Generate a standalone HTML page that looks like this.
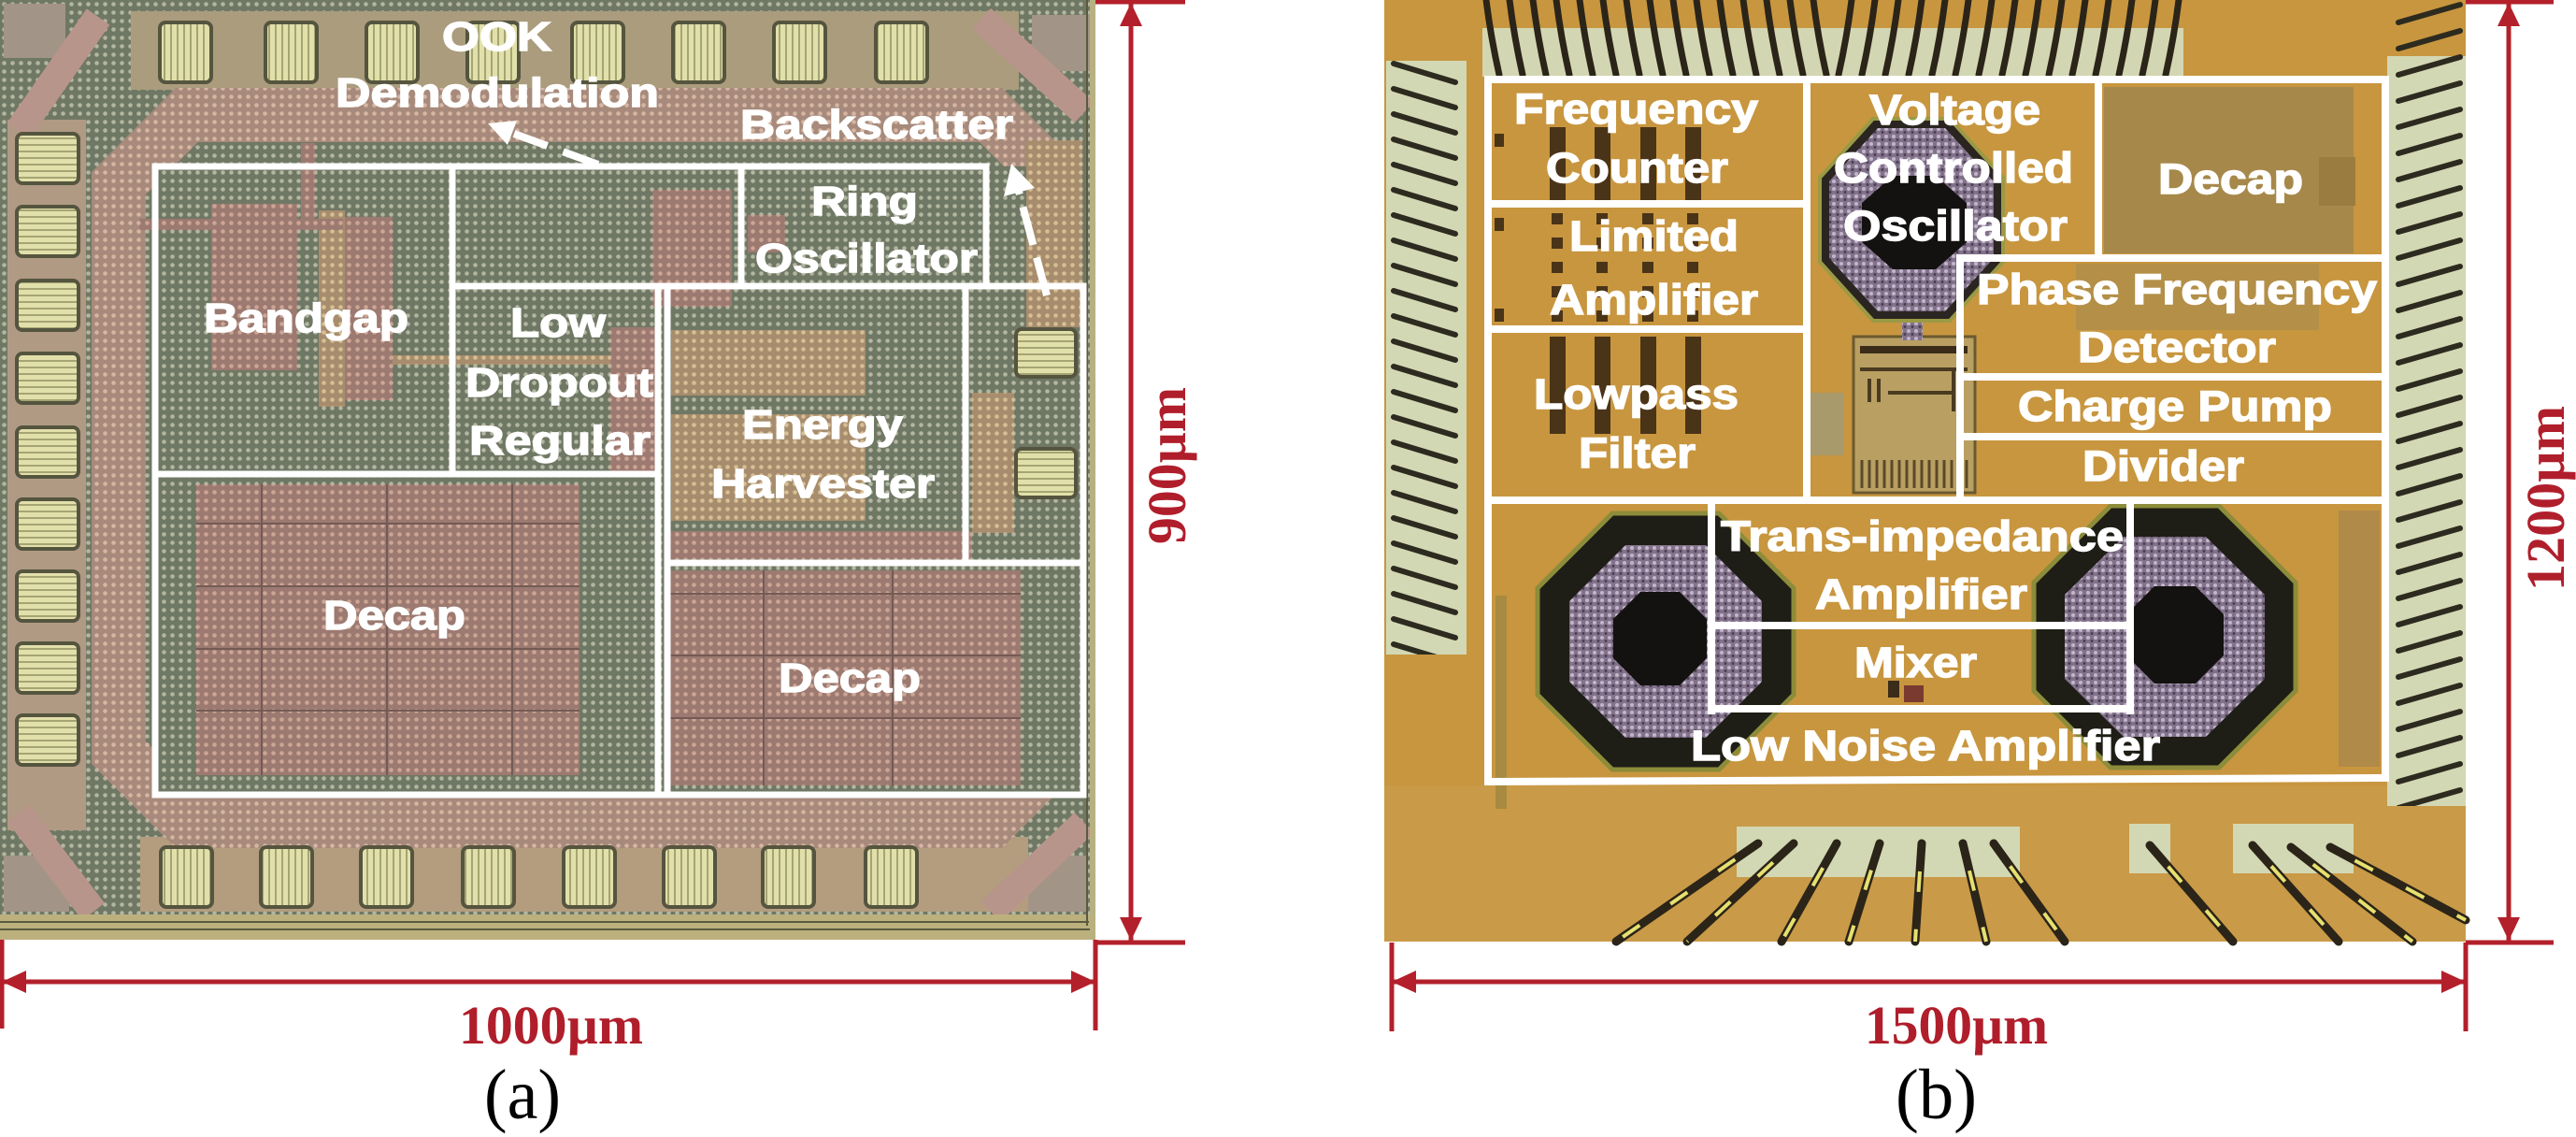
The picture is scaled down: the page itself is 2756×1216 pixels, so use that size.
<!DOCTYPE html>
<html><head><meta charset="utf-8"><style>
html,body{margin:0;padding:0;background:#fff;}
svg{display:block;}
.w{font-family:"Liberation Sans",Arial,sans-serif;font-weight:bold;font-size:44px;fill:#fff;stroke:#fff;stroke-width:1.4px;}
.d{font-family:"Liberation Serif","Times New Roman",serif;font-weight:bold;font-size:58px;fill:#b01e2b;}
.c{font-family:"Liberation Serif","Times New Roman",serif;font-size:76px;fill:#000;}
</style></head><body>
<svg width="2756" height="1216" viewBox="0 0 2756 1216" xmlns="http://www.w3.org/2000/svg">
<defs>
 <pattern id="gd" width="9" height="9" patternUnits="userSpaceOnUse"><rect width="9" height="9" fill="#6f7864"/><circle cx="4.5" cy="4.5" r="2.3" fill="#b3b6a0"/></pattern>
 <pattern id="pk" width="9" height="9" patternUnits="userSpaceOnUse"><rect width="9" height="9" fill="#9c7a71"/><circle cx="4.5" cy="4.5" r="2.3" fill="#cda594"/></pattern>
 <pattern id="or" width="9" height="9" patternUnits="userSpaceOnUse"><rect width="9" height="9" fill="#a78a7b"/><circle cx="4.5" cy="4.5" r="2.3" fill="#d6b6a2"/></pattern>
 <pattern id="oy" width="9" height="9" patternUnits="userSpaceOnUse"><rect width="9" height="9" fill="#a78d6d"/><circle cx="4.5" cy="4.5" r="2.3" fill="#d6bf94"/></pattern>
 <pattern id="pv" width="7" height="10" patternUnits="userSpaceOnUse"><rect width="7" height="10" fill="#e2e0aa"/><rect width="2" height="10" fill="#a5a474"/></pattern>
 <pattern id="ph" width="10" height="7" patternUnits="userSpaceOnUse"><rect width="10" height="7" fill="#e2e0aa"/><rect width="10" height="2" fill="#a5a474"/></pattern>
 <pattern id="pp" width="8" height="8" patternUnits="userSpaceOnUse"><rect width="8" height="8" fill="#82728b"/><circle cx="2" cy="2" r="2" fill="#c2b6ca"/><circle cx="6" cy="5.5" r="1.5" fill="#4a3f50"/></pattern>
 <pattern id="wl" x="1483" y="65" width="86" height="27" patternUnits="userSpaceOnUse"><path d="M8,3 L74,23" stroke="#2d2b1f" stroke-width="6" stroke-linecap="round"/></pattern>
 <pattern id="wr" x="2554" y="0" width="84" height="28" patternUnits="userSpaceOnUse"><path d="M12,24 L78,5" stroke="#2d2b1f" stroke-width="6" stroke-linecap="round"/></pattern>
 <pattern id="tl" x="1586" y="0" width="25" height="90" patternUnits="userSpaceOnUse"><path d="M4,0 Q9,40 18,80" stroke="#2b2418" stroke-width="7" fill="none" stroke-linecap="round"/></pattern>
 <pattern id="tr" x="1960" y="0" width="25" height="90" patternUnits="userSpaceOnUse"><path d="M21,0 Q16,40 7,80" stroke="#2b2418" stroke-width="7" fill="none" stroke-linecap="round"/></pattern>
</defs>

<!-- ================= PANEL (a) ================= -->
<rect x="0" y="0" width="1172" height="1005" fill="url(#gd)"/>
<rect x="140" y="12" width="950" height="84" fill="#aa9c7c"/>
<rect x="8" y="128" width="84" height="760" fill="#b09a84"/>
<rect x="150" y="895" width="950" height="80" fill="#b39d7e"/>
<rect x="4" y="4" width="66" height="58" fill="#a29486"/>
<rect x="1104" y="16" width="62" height="60" fill="#a29486"/>
<rect x="4" y="915" width="70" height="60" fill="#a29486"/>
<rect x="1100" y="915" width="62" height="60" fill="#a29486"/>
<path d="M20,140 L105,18 M1050,20 L1160,120 M20,870 L100,975 M1060,975 L1160,880" stroke="#b8958a" stroke-width="30"/>
<path d="M200,123 L1060,123 L1128,191 L1128,810 L1060,878 L200,878 L127,805 L127,196 Z" fill="none" stroke="url(#or)" stroke-width="58"/>
<rect x="166" y="178" width="993" height="672" fill="url(#gd)"/>
<rect x="226" y="218" width="92" height="178" fill="url(#pk)"/>
<rect x="369" y="232" width="51" height="196" fill="url(#pk)"/>
<rect x="341" y="225" width="28" height="210" fill="url(#oy)"/>
<rect x="149" y="234" width="218" height="12" fill="url(#pk)"/>
<rect x="322" y="153" width="15" height="93" fill="url(#pk)"/>
<rect x="420" y="380" width="240" height="10" fill="url(#oy)"/>
<rect x="653" y="350" width="50" height="157" fill="url(#pk)"/>
<rect x="698" y="203" width="85" height="125" fill="url(#pk)"/>
<rect x="800" y="230" width="40" height="40" fill="url(#pk)"/>
<rect x="718" y="353" width="208" height="70" fill="url(#oy)"/>
<rect x="718" y="443" width="208" height="114" fill="url(#oy)"/>
<rect x="715" y="568" width="325" height="30" fill="url(#pk)"/>
<rect x="1098" y="150" width="60" height="200" fill="url(#oy)"/>
<rect x="1040" y="420" width="45" height="150" fill="url(#oy)"/>
<rect x="210" y="518" width="410" height="311" fill="url(#pk)"/>
<path d="M280,518 V829 M414,518 V829 M548,518 V829 M210,560 H620 M210,627 H620 M210,694 H620 M210,760 H620" stroke="#735a55" stroke-width="2"/>
<rect x="715" y="610" width="377" height="230" fill="url(#pk)"/>
<path d="M817,610 V840 M955,610 V840 M715,635 H1092 M715,701 H1092 M715,768 H1092" stroke="#735a55" stroke-width="2"/>
<g stroke="#55553f" stroke-width="4">
<rect x="171" y="24" width="55" height="64" rx="6" fill="url(#pv)"/>
<rect x="284" y="24" width="55" height="64" rx="6" fill="url(#pv)"/>
<rect x="392" y="24" width="55" height="64" rx="6" fill="url(#pv)"/>
<rect x="500" y="24" width="55" height="64" rx="6" fill="url(#pv)"/>
<rect x="612" y="24" width="55" height="64" rx="6" fill="url(#pv)"/>
<rect x="720" y="24" width="55" height="64" rx="6" fill="url(#pv)"/>
<rect x="828" y="24" width="55" height="64" rx="6" fill="url(#pv)"/>
<rect x="937" y="24" width="55" height="64" rx="6" fill="url(#pv)"/>
<rect x="18" y="143" width="66" height="53" rx="6" fill="url(#ph)"/>
<rect x="18" y="221" width="66" height="53" rx="6" fill="url(#ph)"/>
<rect x="18" y="300" width="66" height="53" rx="6" fill="url(#ph)"/>
<rect x="18" y="378" width="66" height="53" rx="6" fill="url(#ph)"/>
<rect x="18" y="457" width="66" height="53" rx="6" fill="url(#ph)"/>
<rect x="18" y="534" width="66" height="53" rx="6" fill="url(#ph)"/>
<rect x="18" y="611" width="66" height="53" rx="6" fill="url(#ph)"/>
<rect x="18" y="688" width="66" height="53" rx="6" fill="url(#ph)"/>
<rect x="18" y="765" width="66" height="53" rx="6" fill="url(#ph)"/>
<rect x="172" y="906" width="55" height="64" rx="6" fill="url(#pv)"/>
<rect x="279" y="906" width="55" height="64" rx="6" fill="url(#pv)"/>
<rect x="386" y="906" width="55" height="64" rx="6" fill="url(#pv)"/>
<rect x="495" y="906" width="55" height="64" rx="6" fill="url(#pv)"/>
<rect x="603" y="906" width="55" height="64" rx="6" fill="url(#pv)"/>
<rect x="710" y="906" width="55" height="64" rx="6" fill="url(#pv)"/>
<rect x="816" y="906" width="55" height="64" rx="6" fill="url(#pv)"/>
<rect x="926" y="906" width="55" height="64" rx="6" fill="url(#pv)"/>
<rect x="1087" y="352" width="64" height="51" rx="6" fill="url(#ph)"/>
<rect x="1087" y="480" width="64" height="52" rx="6" fill="url(#ph)"/>
</g>
<rect x="0" y="978" width="1172" height="27" fill="#bcb07c"/>
<path d="M0,986 H1165 M0,994 H1168 M1163,0 V990" stroke="#5a5a40" stroke-width="2"/>
<rect x="1166" y="0" width="6" height="1005" fill="#b8b080"/>
<g stroke="#fff" stroke-width="7" fill="none" stroke-linecap="square">
<path d="M166,178 H1055 M166,178 V850 M166,850 H1159 M484,178 V507 M166,507 H704 M484,306 H1159 M793,178 V306 M1055,178 V306 M704,306 V850 M714,306 V850 M1033,306 V602 M714,602 H1159 M1159,306 V850"/>
</g>
<path d="M640,176 L550,143" stroke="#fff" stroke-width="8" stroke-dasharray="40 18" fill="none"/>
<polygon points="522,132 553,129 543,155" fill="#fff"/>
<path d="M1120,316 L1090,205" stroke="#fff" stroke-width="8" stroke-dasharray="42 14" fill="none"/>
<polygon points="1082,175 1107,201 1074,210" fill="#fff"/>
<g class="w">
<text x="473" y="54" textLength="117" lengthAdjust="spacingAndGlyphs">OOK</text>
<text x="359" y="114" textLength="346" lengthAdjust="spacingAndGlyphs">Demodulation</text>
<text x="792" y="148" textLength="292" lengthAdjust="spacingAndGlyphs">Backscatter</text>
<text x="868" y="230" textLength="114" lengthAdjust="spacingAndGlyphs">Ring</text>
<text x="808" y="291" textLength="238" lengthAdjust="spacingAndGlyphs">Oscillator</text>
<text x="218" y="355" textLength="219" lengthAdjust="spacingAndGlyphs">Bandgap</text>
<text x="546" y="360" textLength="102" lengthAdjust="spacingAndGlyphs">Low</text>
<text x="498" y="424" textLength="201" lengthAdjust="spacingAndGlyphs">Dropout</text>
<text x="502" y="486" textLength="194" lengthAdjust="spacingAndGlyphs">Regular</text>
<text x="794" y="469" textLength="172" lengthAdjust="spacingAndGlyphs">Energy</text>
<text x="761" y="532" textLength="239" lengthAdjust="spacingAndGlyphs">Harvester</text>
<text x="346" y="673" textLength="152" lengthAdjust="spacingAndGlyphs">Decap</text>
<text x="833" y="740" textLength="152" lengthAdjust="spacingAndGlyphs">Decap</text>
</g>
<g stroke="#b3202b" stroke-width="5" fill="none">
<path d="M2,1050 H1172 M2,1005 V1100 M1172,1005 V1102 M1210,2 V1007 M1172,2 H1268 M1172,1008 H1268"/>
</g>
<g fill="#b3202b">
<polygon points="2,1050 28,1038 28,1062"/>
<polygon points="1172,1050 1146,1038 1146,1062"/>
<polygon points="1210,3 1198,28 1222,28"/>
<polygon points="1210,1006 1198,981 1222,981"/>
</g>
<text class="d" x="491" y="1116" textLength="197" lengthAdjust="spacingAndGlyphs">1000µm</text>
<text class="d" transform="translate(1268,498) rotate(-90)" text-anchor="middle" textLength="168" lengthAdjust="spacingAndGlyphs">900µm</text>
<text class="c" x="518" y="1196" textLength="82" lengthAdjust="spacingAndGlyphs">(a)</text>

<!-- ================= PANEL (b) ================= -->
<rect x="1481" y="0" width="1157" height="1007" fill="#c8963f"/>
<rect x="1481" y="840" width="1157" height="167" fill="#c99a47"/>
<rect x="1586" y="30" width="750" height="52" fill="#d3d6b2"/>
<rect x="1586" y="0" width="374" height="84" fill="url(#tl)"/>
<rect x="1960" y="0" width="376" height="84" fill="url(#tr)"/>
<rect x="1483" y="65" width="86" height="635" fill="#d3d8b4"/>
<rect x="1483" y="65" width="86" height="635" fill="url(#wl)"/>
<rect x="2554" y="60" width="84" height="802" fill="#d3d8b4"/>
<rect x="2554" y="0" width="84" height="862" fill="url(#wr)"/>
<rect x="1858" y="884" width="303" height="54" fill="#d3d8b4"/>
<rect x="2278" y="881" width="44" height="53" fill="#d3d8b4"/>
<rect x="2389" y="881" width="129" height="53" fill="#d3d8b4"/>
<g stroke="#2b2418" stroke-width="9" stroke-linecap="round">
<path d="M1881,902 L1729,1007 M1919,902 L1805,1007 M1965,902 L1906,1007 M2011,902 L1978,1007 M2056,902 L2049,1007 M2100,902 L2125,1007 M2133,902 L2209,1007 M2300,904 L2389,1007 M2410,904 L2502,1007 M2451,906 L2581,1007 M2493,906 L2638,984"/>
</g>
<g stroke="#e6e070" stroke-width="4" stroke-dasharray="22 40" stroke-dashoffset="-30">
<path d="M1881,902 L1729,1007 M1919,902 L1805,1007 M1965,902 L1906,1007 M2011,902 L1978,1007 M2056,902 L2049,1007 M2100,902 L2125,1007 M2133,902 L2209,1007 M2300,904 L2389,1007 M2410,904 L2502,1007 M2451,906 L2581,1007 M2493,906 L2638,984"/>
</g>
<rect x="2251" y="93" width="267" height="178" fill="#a6884a"/>
<rect x="2481" y="168" width="39" height="52" fill="#9a7c40"/>
<rect x="2221" y="282" width="260" height="71" fill="#b38f48"/>
<rect x="1600" y="637" width="12" height="228" fill="#a88a40"/>
<rect x="2502" y="546" width="44" height="274" fill="#b08a48"/>
<g fill="#4a3418">
<rect x="1658" y="136" width="17" height="78"/><rect x="1706" y="136" width="17" height="78"/><rect x="1755" y="136" width="17" height="78"/><rect x="1803" y="136" width="17" height="78"/>
<rect x="1658" y="360" width="17" height="104"/><rect x="1706" y="360" width="17" height="104"/><rect x="1755" y="360" width="17" height="104"/><rect x="1803" y="360" width="17" height="104"/>
<rect x="1599" y="143" width="10" height="14"/><rect x="1599" y="233" width="10" height="14"/><rect x="1599" y="330" width="10" height="14"/>
</g>
<g stroke="#4a3418" stroke-width="12" stroke-dasharray="12 14">
<path d="M1666,228 V345 M1714,228 V345 M1763,228 V345 M1811,228 V345"/>
</g>
<rect x="1937" y="420" width="36" height="67" fill="#a89a6a"/>
<rect x="1983" y="360" width="130" height="167" fill="#b9a062" stroke="#6b5a30" stroke-width="3"/>
<rect x="1990" y="370" width="115" height="8" fill="#3a2c18"/>
<path d="M1990,395 H2105 M2000,405 V430 M2010,405 V430 M2020,420 H2090 M2090,395 V440" stroke="#4a3a20" stroke-width="4"/>
<path d="M1992,492 V522 M2000,492 V522 M2008,492 V522 M2016,492 V522 M2024,492 V522 M2032,492 V522 M2040,492 V522 M2048,492 V522 M2056,492 V522 M2064,492 V522 M2072,492 V522 M2080,492 V522 M2088,492 V522 M2096,492 V522 M2104,492 V522" stroke="#5a4a28" stroke-width="3"/>
<rect x="2035" y="338" width="22" height="26" fill="url(#pp)"/>
<polygon points="2004,127 2086,127 2143,190 2143,280 2086,343 2004,343 1947,280 1947,190" fill="#2a2520" stroke="#9a9a45" stroke-width="4"/>
<polygon points="2009,137 2081,137 2133,194 2133,276 2081,333 2009,333 1957,276 1957,194" fill="url(#pp)"/>
<polygon points="2025,188 2071,188 2104,217 2104,259 2071,288 2025,288 1992,259 1992,217" fill="#141210"/>
<polygon points="1725,549 1839,549 1919,629 1919,743 1839,823 1725,823 1645,743 1645,629" fill="#1e1d16" stroke="#8c8c3a" stroke-width="5"/>
<polygon points="1739,583 1825,583 1885,643 1885,729 1825,789 1739,789 1679,729 1679,643" fill="url(#pp)"/>
<polygon points="1755,633 1797,633 1826,662 1826,704 1797,733 1755,733 1726,704 1726,662" fill="#141210"/>
<polygon points="2258,541 2374,541 2456,623 2456,739 2374,821 2258,821 2176,739 2176,623" fill="#1e1d16" stroke="#8c8c3a" stroke-width="5"/>
<polygon points="2272,574 2360,574 2423,636 2423,726 2360,788 2272,788 2209,726 2209,636" fill="url(#pp)"/>
<polygon points="2305,627 2349,627 2379,657 2379,701 2349,731 2305,731 2275,701 2275,657" fill="#141210"/>
<rect x="2020" y="728" width="12" height="18" fill="#3a2c18"/>
<rect x="2037" y="733" width="21" height="18" fill="#7a3a30"/>
<g stroke="#fff" stroke-width="8" fill="none" stroke-linecap="square">
<path d="M1592,85 H2552 M1592,85 V836 M1592,836 L2552,832 M2552,85 V832 M1933,85 V535 M1592,218 H1933 M1592,352 H1933 M1592,535 H2552 M2245,85 V276 M2097,276 H2552 M2097,276 V535 M2097,403 H2552 M2097,467 H2552 M1831,535 V760 M2279,535 V760 M1831,669 H2279 M1831,758 H2279"/>
</g>
<g class="w" style="font-size:45px">
<text x="1620" y="132" textLength="261" lengthAdjust="spacingAndGlyphs">Frequency</text>
<text x="1654" y="195" textLength="195" lengthAdjust="spacingAndGlyphs">Counter</text>
<text x="2000" y="133" textLength="183" lengthAdjust="spacingAndGlyphs">Voltage</text>
<text x="1962" y="195" textLength="256" lengthAdjust="spacingAndGlyphs">Controlled</text>
<text x="1972" y="257" textLength="240" lengthAdjust="spacingAndGlyphs">Oscillator</text>
<text x="2309" y="207" textLength="155" lengthAdjust="spacingAndGlyphs">Decap</text>
<text x="1679" y="268" textLength="181" lengthAdjust="spacingAndGlyphs">Limited</text>
<text x="1658" y="336" textLength="223" lengthAdjust="spacingAndGlyphs">Amplifier</text>
<text x="1641" y="437" textLength="219" lengthAdjust="spacingAndGlyphs">Lowpass</text>
<text x="1689" y="500" textLength="125" lengthAdjust="spacingAndGlyphs">Filter</text>
<text x="2115" y="325" textLength="428" lengthAdjust="spacingAndGlyphs">Phase Frequency</text>
<text x="2223" y="387" textLength="212" lengthAdjust="spacingAndGlyphs">Detector</text>
<text x="2159" y="450" textLength="336" lengthAdjust="spacingAndGlyphs">Charge Pump</text>
<text x="2228" y="514" textLength="173" lengthAdjust="spacingAndGlyphs">Divider</text>
<text x="1841" y="589" textLength="431" lengthAdjust="spacingAndGlyphs">Trans-impedance</text>
<text x="1942" y="651" textLength="227" lengthAdjust="spacingAndGlyphs">Amplifier</text>
<text x="1984" y="724" textLength="131" lengthAdjust="spacingAndGlyphs">Mixer</text>
<text x="1809" y="813" textLength="502" lengthAdjust="spacingAndGlyphs">Low Noise Amplifier</text>
</g>
<g stroke="#b3202b" stroke-width="5" fill="none">
<path d="M1489,1050 H2638 M1489,1008 V1103 M2638,1008 V1103 M2684,2 V1007 M2638,2 H2732 M2638,1008 H2732"/>
</g>
<g fill="#b3202b">
<polygon points="1489,1050 1515,1038 1515,1062"/>
<polygon points="2638,1050 2612,1038 2612,1062"/>
<polygon points="2684,3 2672,28 2696,28"/>
<polygon points="2684,1006 2672,981 2696,981"/>
</g>
<text class="d" x="1995" y="1116" textLength="196" lengthAdjust="spacingAndGlyphs">1500µm</text>
<text class="d" transform="translate(2743,533) rotate(-90)" text-anchor="middle" textLength="198" lengthAdjust="spacingAndGlyphs">1200µm</text>
<text class="c" x="2028" y="1196" textLength="87" lengthAdjust="spacingAndGlyphs">(b)</text>
</svg>
</body></html>
